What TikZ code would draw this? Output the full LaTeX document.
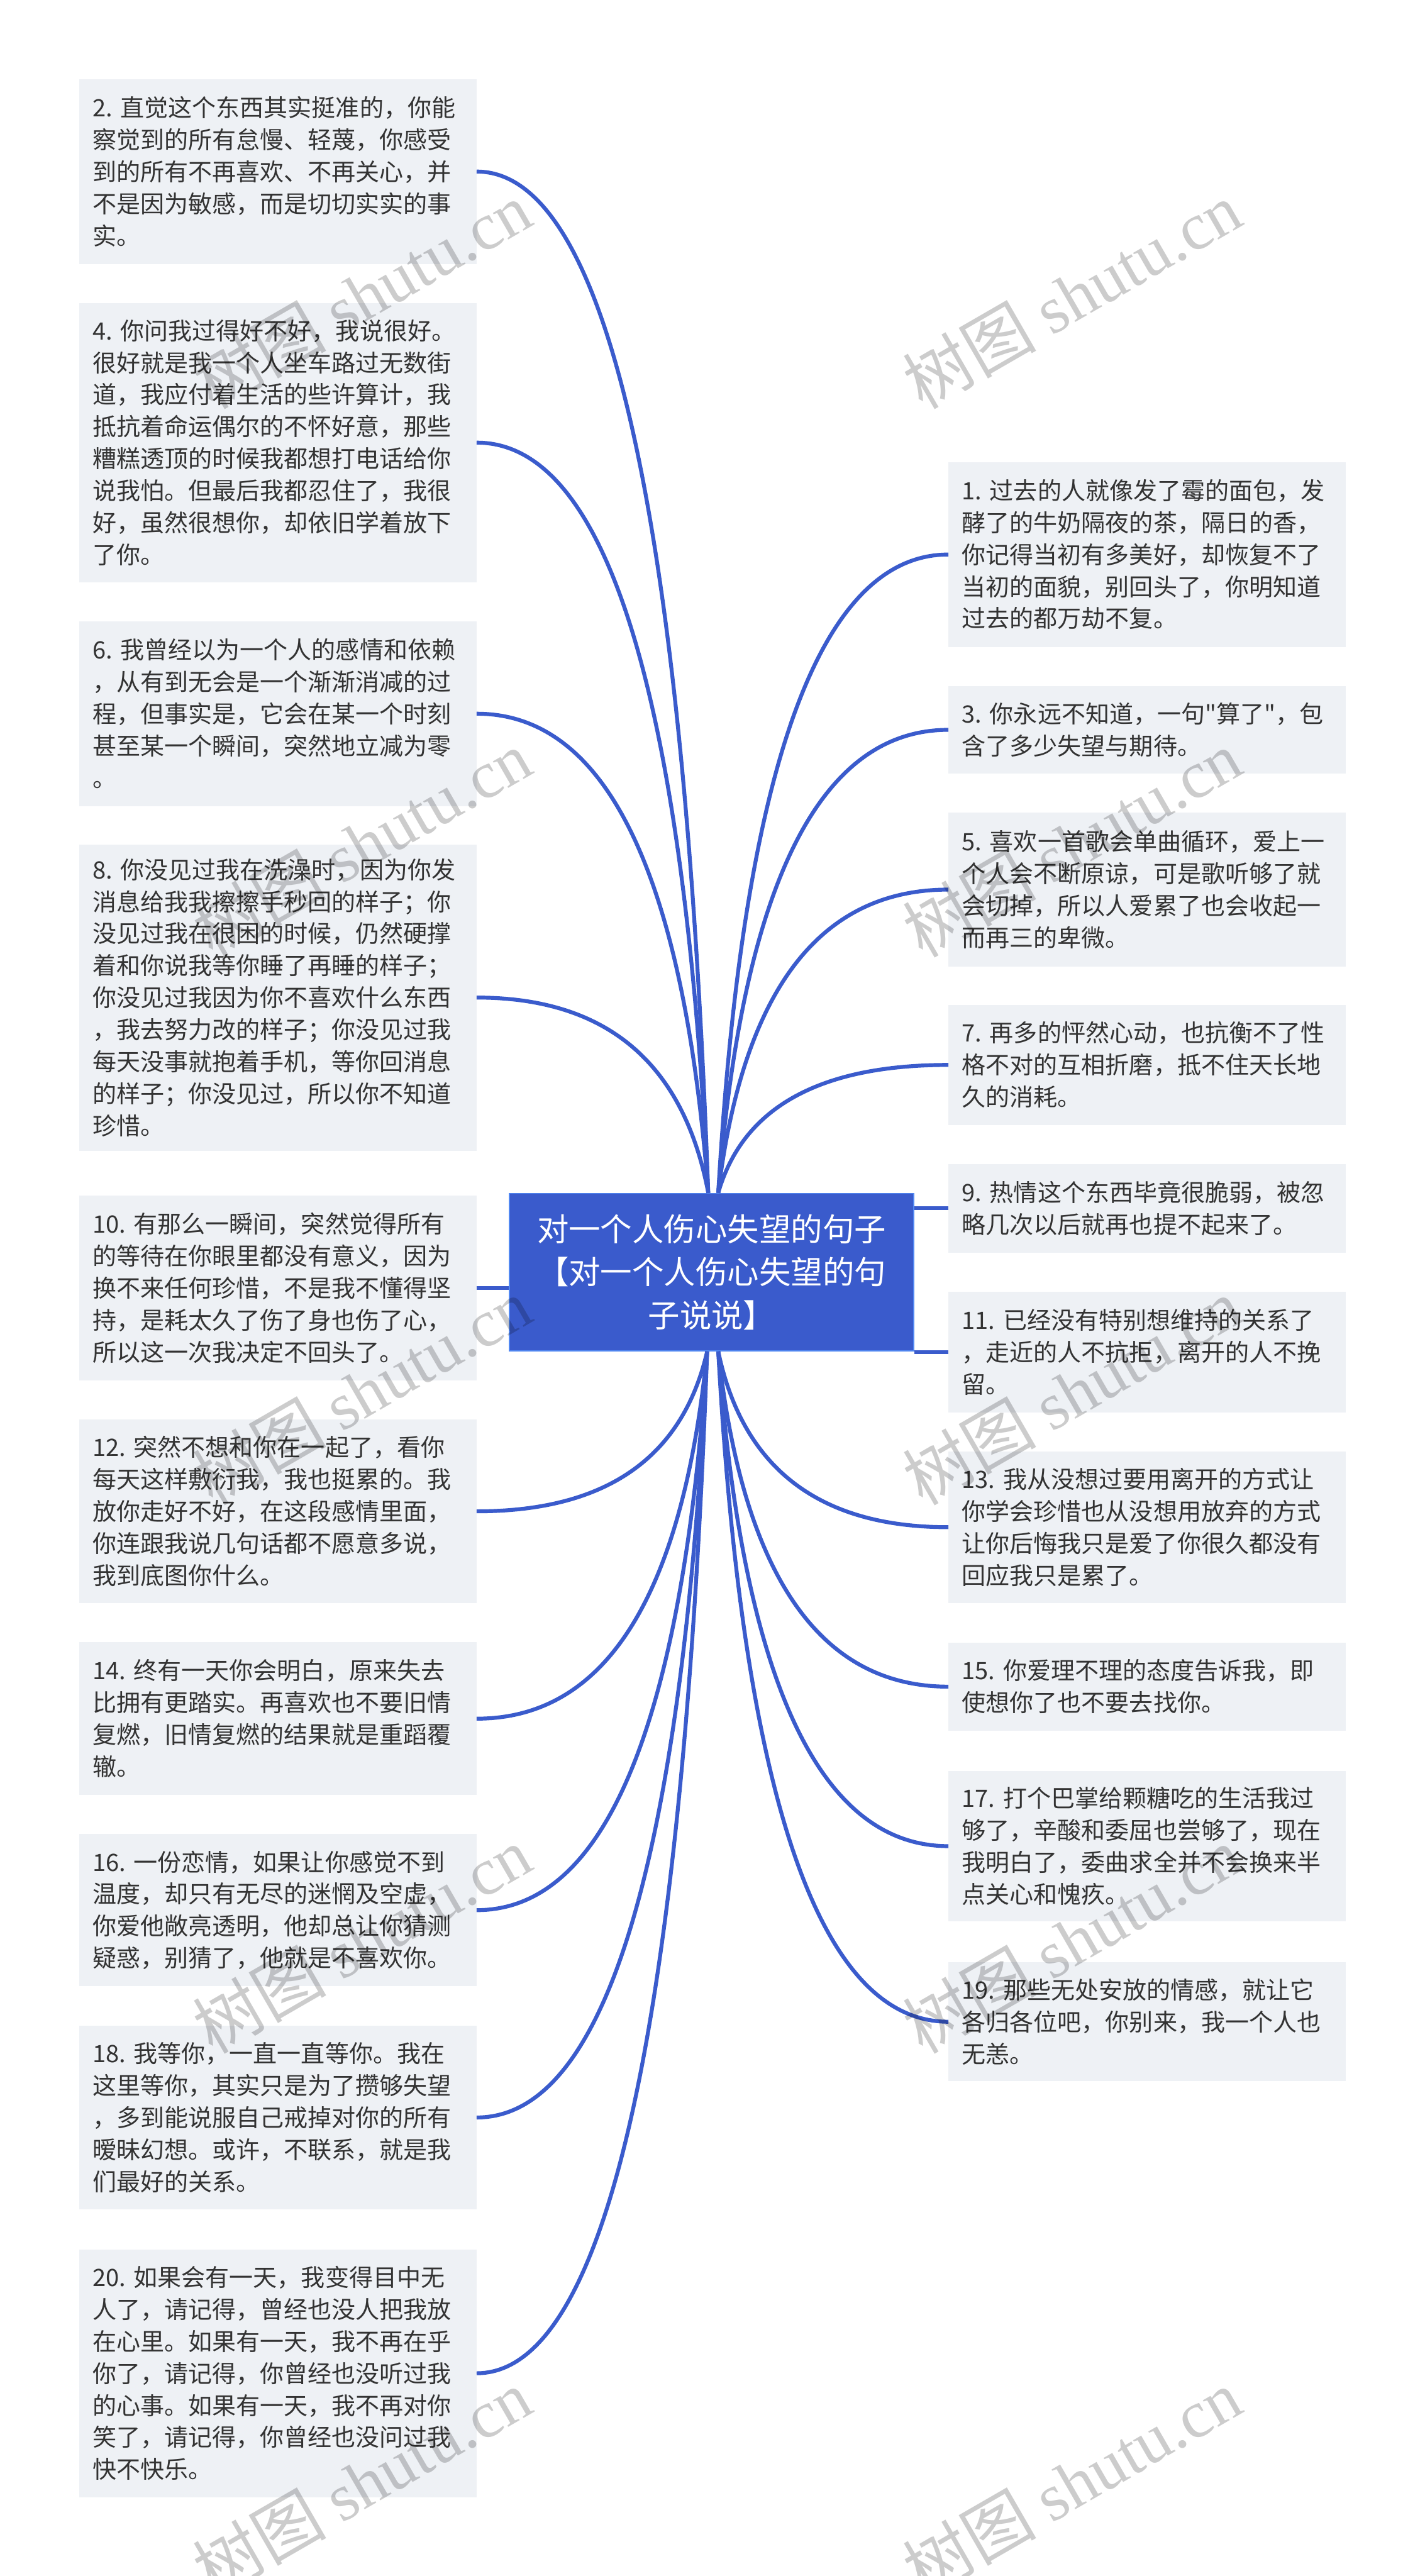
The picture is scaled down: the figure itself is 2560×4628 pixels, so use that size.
\documentclass[tikz,border=0pt]{standalone}
\usepackage{fontspec}
\setmainfont{Noto Sans CJK SC}[Ligatures=TeXOff]
\newfontfamily\latinserif{Liberation Serif}
\usetikzlibrary{calc}
\definecolor{hubblue}{RGB}{58,91,204}
\definecolor{hubedge}{RGB}{82,136,242}
\definecolor{leafgray}{RGB}{238,241,245}
\definecolor{inkgray}{RGB}{51,51,51}
\frenchspacing

% curved branch: quadratic bend from #1 (on the hub) to #2 (leaf side)
\newcommand{\twig}[2]{%
  \path (#2 -| #1) coordinate (bend) ($(bend)!0.16!(#2)$) coordinate (ctl);
  \draw[link] (#1) .. controls ($(#1)!2/3!(ctl)$) and ($(#2)!2/3!(ctl)$) .. (#2);}

\begin{document}
\begin{tikzpicture}[
  x=1pt, y=-1pt,
  leaf/.style={fill=leafgray, anchor=north west, align=left, text=inkgray,
               text width=666pt, inner xsep=24pt, inner ysep=0pt,
               minimum height=#1pt, font=\fontsize{43}{57.5}\selectfont},
  hub/.style={fill=hubblue, draw=hubedge, line width=2pt, align=center,
              text=white, minimum width=727pt, minimum height=283pt,
              font=\fontsize{57}{77}\selectfont},
  link/.style={draw=hubblue, line width=7pt},
  stamp/.style={rotate=30, text=black, text opacity=0.2,
                font=\fontsize{120}{120}\selectfont}
]
\fill[white] (0,0) rectangle (2560,4628);
\useasboundingbox (0,0) rectangle (2560,4628);

% ---- centre ----
\node[hub] (hub) at (1278.5,2285.5)
  {对一个人伤心失望的句子\\【对一个人伤心失望的句\\子说说】};
\coordinate (hubNL) at ([xshift=-6pt]hub.north);
\coordinate (hubNR) at ([xshift=12pt]hub.north);
\coordinate (hubSL) at ([xshift=-8pt]hub.south);
\coordinate (hubSR) at ([xshift=12pt]hub.south);

% ---- left column ----
\node[leaf=332] (n2)  at (142,142)  {2. 直觉这个东西其实挺准的，你能\\察觉到的所有怠慢、轻蔑，你感受\\到的所有不再喜欢、不再关心，并\\不是因为敏感，而是切切实实的事\\实。};
\node[leaf=502] (n4)  at (142,544)  {4. 你问我过得好不好，我说很好。\\很好就是我一个人坐车路过无数街\\道，我应付着生活的些许算计，我\\抵抗着命运偶尔的不怀好意，那些\\糟糕透顶的时候我都想打电话给你\\说我怕。但最后我都忍住了，我很\\好，虽然很想你，却依旧学着放下\\了你。};
\node[leaf=332] (n6)  at (142,1116) {6. 我曾经以为一个人的感情和依赖\\，从有到无会是一个渐渐消减的过\\程，但事实是，它会在某一个时刻\\甚至某一个瞬间，突然地立减为零\\。};
\node[leaf=550] (n8)  at (142,1517) {8. 你没见过我在洗澡时，因为你发\\消息给我我擦擦手秒回的样子；你\\没见过我在很困的时候，仍然硬撑\\着和你说我等你睡了再睡的样子；\\你没见过我因为你不喜欢什么东西\\，我去努力改的样子；你没见过我\\每天没事就抱着手机，等你回消息\\的样子；你没见过，所以你不知道\\珍惜。};
\node[leaf=332] (n10) at (142,2148) {10. 有那么一瞬间，突然觉得所有\\的等待在你眼里都没有意义，因为\\换不来任何珍惜，不是我不懂得坚\\持，是耗太久了伤了身也伤了心，\\所以这一次我决定不回头了。};
\node[leaf=330] (n12) at (142,2550) {12. 突然不想和你在一起了，看你\\每天这样敷衍我，我也挺累的。我\\放你走好不好，在这段感情里面，\\你连跟我说几句话都不愿意多说，\\我到底图你什么。};
\node[leaf=275] (n14) at (142,2950) {14. 终有一天你会明白，原来失去\\比拥有更踏实。再喜欢也不要旧情\\复燃，旧情复燃的结果就是重蹈覆\\辙。};
\node[leaf=273] (n16) at (142,3295) {16. 一份恋情，如果让你感觉不到\\温度，却只有无尽的迷惘及空虚，\\你爱他敞亮透明，他却总让你猜测\\疑惑，别猜了，他就是不喜欢你。};
\node[leaf=330] (n18) at (142,3639) {18. 我等你，一直一直等你。我在\\这里等你，其实只是为了攒够失望\\，多到能说服自己戒掉对你的所有\\暧昧幻想。或许，不联系，就是我\\们最好的关系。};
\node[leaf=445] (n20) at (142,4041) {20. 如果会有一天，我变得目中无\\人了，请记得，曾经也没人把我放\\在心里。如果有一天，我不再在乎\\你了，请记得，你曾经也没听过我\\的心事。如果有一天，我不再对你\\笑了，请记得，你曾经也没问过我\\快不快乐。};

% ---- right column ----
\node[leaf=332] (n1)  at (1704,830)  {1. 过去的人就像发了霉的面包，发\\酵了的牛奶隔夜的茶，隔日的香，\\你记得当初有多美好，却恢复不了\\当初的面貌，别回头了，你明知道\\过去的都万劫不复。};
\node[leaf=158] (n3)  at (1704,1232) {3. 你永远不知道，一句"算了"，包\\含了多少失望与期待。};
\node[leaf=276] (n5)  at (1704,1460) {5. 喜欢一首歌会单曲循环，爱上一\\个人会不断原谅，可是歌听够了就\\会切掉，所以人爱累了也会收起一\\而再三的卑微。};
\node[leaf=216] (n7)  at (1704,1805) {7. 再多的怦然心动，也抗衡不了性\\格不对的互相折磨，抵不住天长地\\久的消耗。};
\node[leaf=159] (n9)  at (1704,2091) {9. 热情这个东西毕竟很脆弱，被忽\\略几次以后就再也提不起来了。};
\node[leaf=216] (n11) at (1704,2321) {11. 已经没有特别想维持的关系了\\，走近的人不抗拒，离开的人不挽\\留。};
\node[leaf=273] (n13) at (1704,2607) {13. 我从没想过要用离开的方式让\\你学会珍惜也从没想用放弃的方式\\让你后悔我只是爱了你很久都没有\\回应我只是累了。};
\node[leaf=158] (n15) at (1704,2951) {15. 你爱理不理的态度告诉我，即\\使想你了也不要去找你。};
\node[leaf=271] (n17) at (1704,3181) {17. 打个巴掌给颗糖吃的生活我过\\够了，辛酸和委屈也尝够了，现在\\我明白了，委曲求全并不会换来半\\点关心和愧疚。};
\node[leaf=214] (n19) at (1704,3525) {19. 那些无处安放的情感，就让它\\各归各位吧，你别来，我一个人也\\无恙。};

% ---- branches ----
\twig{hubNL}{n2.east}
\twig{hubNL}{n4.east}
\twig{hubNL}{n6.east}
\twig{hubNL}{n8.east}
\draw[link] (n10.east) -- (n10.east -| hub.west);
\twig{hubSL}{n12.east}
\twig{hubSL}{n14.east}
\twig{hubSL}{n16.east}
\twig{hubSL}{n18.east}
\twig{hubSL}{n20.east}

\twig{hubNR}{n1.west}
\twig{hubNR}{n3.west}
\twig{hubNR}{n5.west}
\twig{hubNR}{n7.west}
\draw[link] (n9.west) -- (n9.west -| hub.east);
\draw[link] (n11.west) -- (n11.west -| hub.east);
\twig{hubSR}{n13.west}
\twig{hubSR}{n15.west}
\twig{hubSR}{n17.west}
\twig{hubSR}{n19.west}

% ---- watermark ----
\foreach \wy [count=\i] in {530,1515,2500,3485,4460} {
  \node[stamp] (wmL\i) at (650,\wy)  {树图 {\latinserif shutu.cn}};
  \node[stamp] (wmR\i) at (1926,\wy) {树图 {\latinserif shutu.cn}};
}
\end{tikzpicture}
\end{document}
